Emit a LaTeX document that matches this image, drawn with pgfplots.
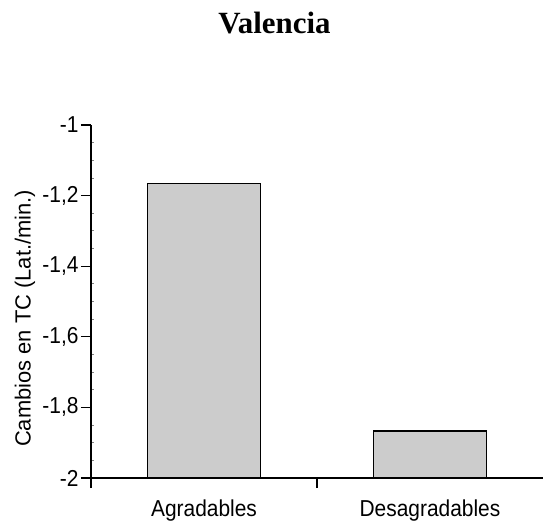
\documentclass[border=0pt]{standalone}
\usepackage{pgfplots}
\pgfplotsset{compat=1.18}
\usepackage{fontspec}
\setmainfont{Liberation Sans}
\newfontfamily\titlefont{Liberation Serif}

\begin{document}
\begin{tikzpicture}
\useasboundingbox (0,0) rectangle (543bp,524bp);
\begin{axis}[
    at={(91bp,46bp)}, anchor=south west,
    scale only axis,
    width=452bp, height=353bp,
    xmin=-0.5, xmax=1.5,
    ymin=-2, ymax=-1,
    y coord trafo/.code={\pgfmathparse{#1+2}},
    y coord inv trafo/.code={\pgfmathparse{#1-2}},
    axis x line*=bottom, axis y line*=left,
    x axis line style={-, line width=1.8bp},
    y axis line style={-, line width=1.1bp},
    ytick={-2,-1.8,-1.6,-1.4,-1.2,-1},
    yticklabels={-2,{-1,8},{-1,6},{-1,4},{-1,2},-1},
    minor y tick num=3,
    tick align=outside,
    major tick length=10bp,
    minor tick length=3bp,
    minor tick style={xshift=3bp, line width=0.8bp},
    major tick style={line width=1.1bp, black},
    xtick={-0.5,0.5},
    xticklabels={},
    extra x ticks={0,1},
    extra x tick labels={Agradables,Desagradables},
    extra x tick style={major tick length=0pt, xticklabel style={yshift=-16bp}},
    tick label style={font=\fontsize{21}{25}\selectfont, yscale=1.1},
    yticklabel style={xshift=1bp},
    ylabel={Cambios en TC (Lat./min.)},
    ylabel style={at={(axis description cs:-0.146,0.452)}, anchor=center, rotate=0, font=\fontsize{22}{26}\selectfont},
    title={Valencia},
    title style={at={(axis description cs:0.406,1.241)}, anchor=base, font=\titlefont\bfseries\fontsize{31}{36}\selectfont},
]
\addplot[ybar, bar width=0.5, bar shift=0pt, fill={rgb,255:red,204;green,204;blue,204}, draw=black, line width=1.8bp]
    coordinates {(0,-1.166) (1,-1.867)};
\end{axis}
\end{tikzpicture}
\end{document}
